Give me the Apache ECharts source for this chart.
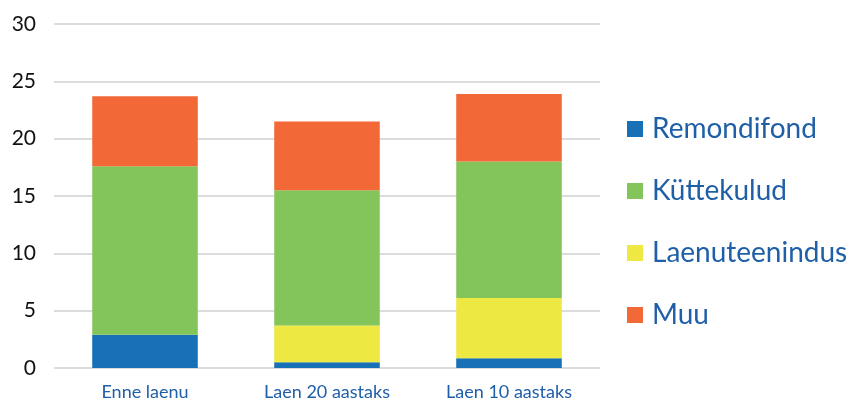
<!DOCTYPE html>
<html><head><meta charset="utf-8">
<script src="https://cdn.jsdelivr.net/npm/echarts@6/dist/echarts.min.js"></script>
<style>html,body{margin:0;padding:0;background:#fff}#c{width:850px;height:401px}</style>
</head><body><div id="c"></div>
<script>
const categories = ['Enne laenu', 'Laen 20 aastaks', 'Laen 10 aastaks'];
const remondifond = [2.9, 0.5, 0.85];
const kuttekulud = [14.7, 11.8, 11.9];
const laenuteenindus = [0, 3.2, 5.25];
const muu = [6.1, 6.0, 5.9];
const yTicks = [0, 5, 10, 15, 20, 25, 30];

const FONT = 'Lato';
const TXT = '#1f5fa8';
const chart = echarts.init(document.getElementById('c'), null, {renderer: 'canvas'});
const mk = (name, data, color) => ({
  name, type: 'bar', stack: 's', data, barWidth: '58%',
  itemStyle: {color}, emphasis: {disabled: true}
});
chart.setOption({
  animation: false,
  textStyle: {fontFamily: FONT},
  grid: {left: 54, right: 250, top: 24, bottom: 30},
  legend: {
    orient: 'vertical', left: 622, top: 110,
    itemWidth: 16, itemHeight: 16, itemGap: 34,
    icon: 'rect',
    textStyle: {color: TXT, fontSize: 28, fontFamily: FONT, padding: [0, 0, 0, 4]},
    data: ['Remondifond', 'Küttekulud', 'Laenuteenindus', 'Muu']
  },
  xAxis: {
    type: 'category', data: categories,
    axisLine: {show: false}, axisTick: {show: false},
    axisLabel: {color: TXT, fontSize: 18, margin: 15, fontFamily: FONT}
  },
  yAxis: {
    type: 'value', min: yTicks[0], max: yTicks[yTicks.length - 1], interval: 5,
    axisLine: {show: false}, axisTick: {show: false},
    axisLabel: {color: '#111', fontSize: 21, margin: 18, fontFamily: FONT},
    splitLine: {lineStyle: {color: '#dcdcdc', width: 2}}
  },
  series: [
    mk('Remondifond', remondifond, '#1870b6'),
    mk('Laenuteenindus', laenuteenindus, '#ede842'),
    mk('Küttekulud', kuttekulud, '#84c55b'),
    mk('Muu', muu, '#f26836')
  ]
});
</script></body></html>
